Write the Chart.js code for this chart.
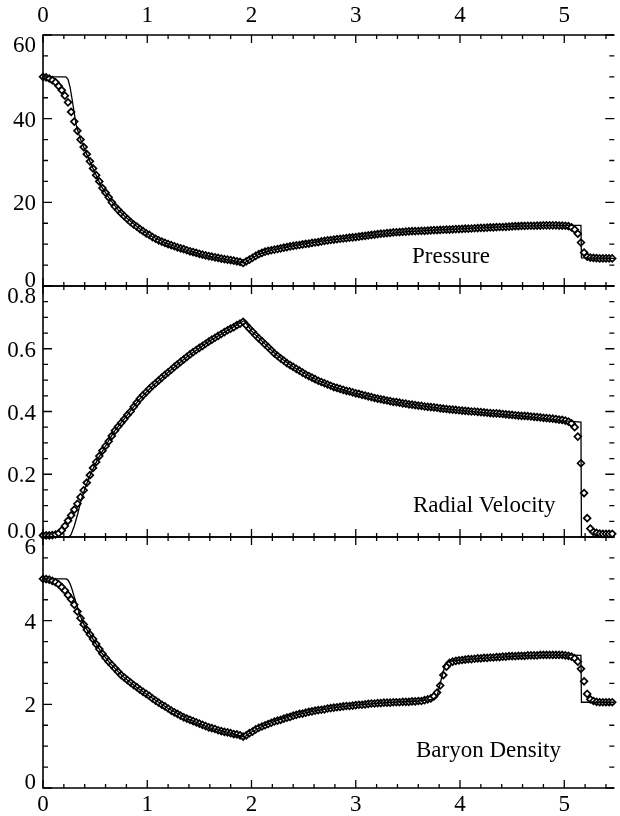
<!DOCTYPE html>
<html>
<head>
<meta charset="utf-8">
<title>Pressure, radial velocity, baryon density</title>
<script src="https://cdn.jsdelivr.net/npm/chart.js@4.4.1/dist/chart.umd.min.js"></script>
<style>
  body { margin: 0; background: #fff; }
  #wrap { position: relative; width: 620px; height: 816px; }
  #wrap canvas { position: absolute; left: 0; top: 0; }
</style>
</head>
<body>
<div id="wrap">
  <canvas id="pressure" width="620" height="816"></canvas>
  <canvas id="velocity" width="620" height="816"></canvas>
  <canvas id="density" width="620" height="816"></canvas>
</div>
<script>
// grille de la simulation (losanges), un point tous les 0.03
const xSim = [
  0, 0.03, 0.06, 0.09, 0.12, 0.15, 0.18, 0.21, 0.24, 0.27,
  0.3, 0.33, 0.36, 0.39, 0.42, 0.45, 0.48, 0.51, 0.54, 0.57,
  0.6, 0.63, 0.66, 0.69, 0.72, 0.75, 0.78, 0.81, 0.84, 0.87,
  0.9, 0.93, 0.96, 0.99, 1.02, 1.05, 1.08, 1.11, 1.14, 1.17,
  1.2, 1.23, 1.26, 1.29, 1.32, 1.35, 1.38, 1.41, 1.44, 1.47,
  1.5, 1.53, 1.56, 1.59, 1.62, 1.65, 1.68, 1.71, 1.74, 1.77,
  1.8, 1.83, 1.86, 1.89, 1.92, 1.95, 1.98, 2.01, 2.04, 2.07,
  2.1, 2.13, 2.16, 2.19, 2.22, 2.25, 2.28, 2.31, 2.34, 2.37,
  2.4, 2.43, 2.46, 2.49, 2.52, 2.55, 2.58, 2.61, 2.64, 2.67,
  2.7, 2.73, 2.76, 2.79, 2.82, 2.85, 2.88, 2.91, 2.94, 2.97,
  3, 3.03, 3.06, 3.09, 3.12, 3.15, 3.18, 3.21, 3.24, 3.27,
  3.3, 3.33, 3.36, 3.39, 3.42, 3.45, 3.48, 3.51, 3.54, 3.57,
  3.6, 3.63, 3.66, 3.69, 3.72, 3.75, 3.78, 3.81, 3.84, 3.87,
  3.9, 3.93, 3.96, 3.99, 4.02, 4.05, 4.08, 4.11, 4.14, 4.17,
  4.2, 4.23, 4.26, 4.29, 4.32, 4.35, 4.38, 4.41, 4.44, 4.47,
  4.5, 4.53, 4.56, 4.59, 4.62, 4.65, 4.68, 4.71, 4.74, 4.77,
  4.8, 4.83, 4.86, 4.89, 4.92, 4.95, 4.98, 5.01, 5.04, 5.07,
  5.1, 5.13, 5.16, 5.19, 5.22, 5.25, 5.28, 5.31, 5.34, 5.37,
  5.4, 5.43, 5.46
];

const pressureSim = [
  50.0, 49.85, 49.6, 49.2, 48.7, 47.8, 46.8, 45.5, 43.9, 41.6,
  39.3, 37.1, 35.0, 33.2, 31.5, 29.8, 28.1, 26.5, 25.0, 23.4,
  22.3, 21.2, 20.0, 19.0, 18.2, 17.4, 16.7, 16.0, 15.3, 14.7,
  14.2, 13.6, 13.1, 12.6, 12.2, 11.7, 11.3, 10.9, 10.6, 10.3,
  10.0, 9.75, 9.5, 9.25, 9.0, 8.8, 8.55, 8.3, 8.1, 7.9,
  7.7, 7.5, 7.3, 7.15, 7.0, 6.85, 6.7, 6.55, 6.4, 6.3,
  6.2, 6.05, 5.9, 5.75, 5.5, 5.9, 6.3, 6.75, 7.2, 7.6,
  7.9, 8.2, 8.4, 8.55, 8.7, 8.85, 9.0, 9.15, 9.3, 9.45,
  9.6, 9.7, 9.8, 9.95, 10.05, 10.15, 10.3, 10.4, 10.5, 10.65,
  10.8, 10.9, 11.0, 11.1, 11.2, 11.3, 11.35, 11.45, 11.55, 11.6,
  11.7, 11.8, 11.9, 12.0, 12.1, 12.2, 12.3, 12.4, 12.5, 12.55,
  12.65, 12.7, 12.8, 12.85, 12.9, 12.95, 13.0, 13.05, 13.1, 13.1,
  13.15, 13.2, 13.2, 13.25, 13.3, 13.35, 13.35, 13.4, 13.45, 13.5,
  13.5, 13.55, 13.6, 13.6, 13.65, 13.7, 13.7, 13.75, 13.8, 13.85,
  13.9, 13.9, 13.95, 14.0, 14.0, 14.05, 14.1, 14.1, 14.15, 14.2,
  14.25, 14.3, 14.3, 14.35, 14.35, 14.4, 14.4, 14.4, 14.45, 14.45,
  14.5, 14.5, 14.5, 14.5, 14.5, 14.45, 14.45, 14.4, 14.3, 14.0,
  13.5, 12.5, 10.4, 8.0, 7.0, 6.8, 6.7, 6.65, 6.6, 6.6,
  6.6, 6.6, 6.6
];

const velocitySim = [
  0.005, 0.005, 0.005, 0.006, 0.008, 0.012, 0.021, 0.035, 0.052, 0.069,
  0.087, 0.106, 0.127, 0.149, 0.173, 0.197, 0.220, 0.239, 0.258, 0.275,
  0.290, 0.305, 0.322, 0.339, 0.352, 0.364, 0.376, 0.389, 0.400, 0.415,
  0.428, 0.441, 0.452, 0.462, 0.472, 0.482, 0.490, 0.499, 0.508, 0.517,
  0.525, 0.533, 0.542, 0.550, 0.558, 0.566, 0.574, 0.582, 0.589, 0.596,
  0.603, 0.609, 0.616, 0.623, 0.629, 0.635, 0.641, 0.647, 0.653, 0.659,
  0.664, 0.669, 0.675, 0.680, 0.686, 0.675, 0.664, 0.654, 0.643, 0.633,
  0.624, 0.614, 0.605, 0.595, 0.585, 0.577, 0.569, 0.562, 0.554, 0.548,
  0.542, 0.536, 0.530, 0.524, 0.518, 0.513, 0.508, 0.503, 0.498, 0.494,
  0.490, 0.486, 0.482, 0.478, 0.475, 0.472, 0.469, 0.466, 0.464, 0.461,
  0.458, 0.456, 0.453, 0.451, 0.448, 0.446, 0.443, 0.441, 0.439, 0.437,
  0.435, 0.433, 0.431, 0.430, 0.428, 0.426, 0.425, 0.423, 0.422, 0.420,
  0.419, 0.418, 0.416, 0.415, 0.414, 0.413, 0.412, 0.410, 0.409, 0.408,
  0.407, 0.406, 0.405, 0.404, 0.403, 0.402, 0.401, 0.400, 0.400, 0.399,
  0.398, 0.397, 0.396, 0.395, 0.394, 0.394, 0.393, 0.392, 0.391, 0.390,
  0.389, 0.388, 0.387, 0.386, 0.386, 0.385, 0.384, 0.383, 0.382, 0.381,
  0.380, 0.379, 0.378, 0.377, 0.376, 0.374, 0.373, 0.371, 0.368, 0.362,
  0.350, 0.320, 0.235, 0.140, 0.060, 0.027, 0.016, 0.013, 0.011, 0.010,
  0.010, 0.010, 0.010
];

const densitySim = [
  5.00, 4.995, 4.98, 4.95, 4.92, 4.87, 4.80, 4.72, 4.61, 4.51,
  4.38, 4.22, 4.06, 3.91, 3.78, 3.67, 3.56, 3.44, 3.32, 3.21,
  3.11, 3.02, 2.94, 2.86, 2.78, 2.70, 2.64, 2.58, 2.52, 2.46,
  2.41, 2.35, 2.30, 2.25, 2.20, 2.14, 2.09, 2.04, 1.99, 1.95,
  1.90, 1.85, 1.81, 1.77, 1.73, 1.69, 1.66, 1.63, 1.60, 1.57,
  1.54, 1.51, 1.48, 1.45, 1.43, 1.41, 1.38, 1.36, 1.34, 1.33,
  1.31, 1.29, 1.28, 1.26, 1.23, 1.26, 1.31, 1.35, 1.40, 1.44,
  1.47, 1.50, 1.53, 1.56, 1.59, 1.61, 1.63, 1.66, 1.68, 1.70,
  1.73, 1.75, 1.77, 1.78, 1.80, 1.82, 1.83, 1.85, 1.86, 1.87,
  1.88, 1.90, 1.91, 1.92, 1.93, 1.94, 1.95, 1.96, 1.96, 1.97,
  1.98, 1.99, 1.99, 2.00, 2.01, 2.02, 2.02, 2.03, 2.03, 2.04,
  2.04, 2.04, 2.05, 2.05, 2.05, 2.06, 2.06, 2.06, 2.07, 2.07,
  2.08, 2.08, 2.10, 2.12, 2.14, 2.19, 2.28, 2.45, 2.70, 2.90,
  2.99, 3.02, 3.04, 3.05, 3.06, 3.07, 3.08, 3.08, 3.09, 3.10,
  3.10, 3.11, 3.11, 3.12, 3.12, 3.13, 3.13, 3.14, 3.14, 3.15,
  3.15, 3.15, 3.16, 3.16, 3.16, 3.17, 3.17, 3.17, 3.17, 3.18,
  3.18, 3.18, 3.18, 3.18, 3.18, 3.18, 3.18, 3.17, 3.16, 3.14,
  3.10, 3.02, 2.85, 2.55, 2.25, 2.12, 2.08, 2.06, 2.05, 2.05,
  2.05, 2.05, 2.05
];

// solution exacte (trait plein)
const pressureExactX = [0, 0.22, 0.24, 0.26, 0.28, 0.30, 0.32, 0.36, 0.40, 0.48, 0.56, 0.64, 0.72, 0.80, 0.92, 1.04, 1.20, 1.40, 1.60, 1.80, 1.93, 2.00, 2.08, 2.20, 2.40, 2.70, 3.00, 3.50, 4.00, 4.50, 4.90, 5.16, 5.165, 5.48];
const pressureExact = [50, 50, 49.4, 47.5, 44.5, 41.3, 38.3, 35.0, 32.6, 28.1, 23.8, 20.8, 18.2, 16.3, 13.8, 11.9, 10.0, 8.4, 7.1, 6.2, 5.5, 6.6, 7.7, 8.6, 9.6, 10.8, 11.7, 13.0, 13.65, 14.25, 14.5, 14.5, 6.7, 6.6];

const velocityExactX = [0, 0.25, 0.27, 0.30, 0.33, 0.36, 0.40, 0.44, 0.52, 0.60, 0.68, 0.80, 0.92, 1.04, 1.20, 1.40, 1.60, 1.80, 1.93, 2.00, 2.12, 2.24, 2.40, 2.60, 2.80, 3.00, 3.40, 3.80, 4.20, 4.60, 5.00, 5.16, 5.165, 5.48];
const velocityExact = [0, 0, 0.008, 0.035, 0.07, 0.11, 0.152, 0.188, 0.245, 0.29, 0.335, 0.385, 0.437, 0.478, 0.525, 0.579, 0.625, 0.664, 0.69, 0.657, 0.618, 0.58, 0.542, 0.505, 0.477, 0.458, 0.430, 0.411, 0.397, 0.385, 0.370, 0.366, 0, 0];

const densityExactX = [0, 0.22, 0.24, 0.26, 0.28, 0.30, 0.33, 0.36, 0.40, 0.48, 0.56, 0.64, 0.76, 0.88, 1.00, 1.20, 1.40, 1.60, 1.80, 1.93, 2.00, 2.12, 2.24, 2.40, 2.60, 2.80, 3.00, 3.30, 3.60, 3.74, 3.78, 3.82, 3.86, 3.90, 4.20, 4.60, 5.00, 5.16, 5.165, 5.48];
const densityExact = [5, 5, 4.97, 4.88, 4.74, 4.57, 4.32, 4.10, 3.87, 3.56, 3.24, 2.99, 2.68, 2.44, 2.23, 1.90, 1.64, 1.44, 1.31, 1.22, 1.34, 1.49, 1.61, 1.73, 1.84, 1.92, 1.98, 2.04, 2.08, 2.12, 2.20, 2.60, 2.97, 3.03, 3.10, 3.16, 3.18, 3.17, 2.05, 2.05];

// graduations
const xTicks = [0, 1, 2, 3, 4, 5];
const xMinorStep = 0.2;
const pressureTicks = [0, 20, 40, 60];
const pressureTickLabels = ['0', '20', '40', '60'];
const velocityTicks = [0, 0.2, 0.4, 0.6, 0.8];
const velocityTickLabels = ['0.0', '0.2', '0.4', '0.6', '0.8'];
const densityTicks = [0, 2, 4, 6];
const densityTickLabels = ['0', '2', '4', '6'];

const FONT = '23px "Liberation Serif", "Times New Roman", serif';

// cadre, graduations vers l'intérieur, étiquettes et titre de chaque panneau
const cadre = {
    id: 'cadre',
    afterDraw(chart, args, o) {
        const ctx = chart.ctx;
        const a = chart.chartArea;
        const xs = chart.scales.x;
        const ys = chart.scales.y;
        ctx.save();
        ctx.strokeStyle = '#000';
        ctx.fillStyle = '#000';
        ctx.lineWidth = 1.6;
        ctx.beginPath();
        ctx.moveTo(a.right, a.top);
        ctx.lineTo(a.left, a.top);
        ctx.lineTo(a.left, a.bottom);
        ctx.lineTo(a.right, a.bottom);
        ctx.stroke();

        ctx.lineWidth = 1.3;
        ctx.beginPath();
        for (let i = 0; i * xMinorStep <= xs.max; i++) {
            const px = xs.getPixelForValue(i * xMinorStep);
            const len = i % 5 === 0 ? 8 : 4;
            ctx.moveTo(px, a.top);
            ctx.lineTo(px, a.top + len);
            ctx.moveTo(px, a.bottom);
            ctx.lineTo(px, a.bottom - len);
        }
        const n = Math.round((ys.max - ys.min) / o.minorStep);
        for (let i = 0; i <= n; i++) {
            const py = ys.getPixelForValue(ys.min + i * o.minorStep);
            const len = i % 4 === 0 ? 9 : 5;
            ctx.moveTo(a.left, py);
            ctx.lineTo(a.left + len, py);
            ctx.moveTo(a.right, py);
            ctx.lineTo(a.right - len, py);
        }
        ctx.stroke();

        ctx.font = FONT;
        ctx.textAlign = 'right';
        ctx.textBaseline = 'alphabetic';
        o.ticks.forEach((t, i) => {
            const py = ys.getPixelForValue(t);
            let base = py + 8;
            if (t === ys.max) base = py + 17;
            if (t === ys.min) base = py + 1;
            ctx.fillText(o.labels[i], a.left - 7, base);
        });

        ctx.textAlign = 'center';
        if (o.topLabels) {
            xTicks.forEach(t => ctx.fillText(String(t), xs.getPixelForValue(t), a.top - 13));
        }
        if (o.bottomLabels) {
            xTicks.forEach(t => ctx.fillText(String(t), xs.getPixelForValue(t), a.bottom + 23));
        }

        ctx.textAlign = 'left';
        ctx.fillText(o.title, o.titleX, o.titleY);
        ctx.restore();
    }
};

function creerPanneau(id, simY, exX, exY, yMin, yMax, padding, opts) {
    const sim = xSim.map((x, i) => ({ x: x, y: simY[i] }));
    const exact = exX.map((x, i) => ({ x: x, y: exY[i] }));
    return new Chart(document.getElementById(id), {
        type: 'scatter',
        data: {
            datasets: [
                {
                    // solution exacte, dessinée au-dessus
                    data: exact,
                    showLine: true,
                    borderColor: '#000',
                    borderWidth: 1.3,
                    pointRadius: 0,
                    tension: 0,
                    clip: false
                },
                {
                    // simulation
                    data: sim,
                    showLine: false,
                    pointStyle: 'rectRot',
                    pointRadius: 3.4,
                    pointBorderWidth: 1.7,
                    pointBorderColor: '#000',
                    pointBackgroundColor: '#fff',
                    clip: false
                }
            ]
        },
        options: {
            responsive: false,
            animation: false,
            devicePixelRatio: 1,
            events: [],
            layout: { padding: padding },
            scales: {
                x: { type: 'linear', min: 0, max: 5.48, display: false },
                y: { type: 'linear', min: yMin, max: yMax, display: false }
            },
            plugins: {
                legend: { display: false },
                tooltip: { enabled: false },
                cadre: opts
            }
        },
        plugins: [cadre]
    });
}

creerPanneau('pressure', pressureSim, pressureExactX, pressureExact, 0, 60,
    { left: 43, right: 0, top: 35, bottom: 530 },
    { minorStep: 5, ticks: pressureTicks, labels: pressureTickLabels, topLabels: true, bottomLabels: false,
      title: 'Pressure', titleX: 412, titleY: 263 });

creerPanneau('velocity', velocitySim, velocityExactX, velocityExact, 0, 0.8,
    { left: 43, right: 0, top: 286, bottom: 279 },
    { minorStep: 0.05, ticks: velocityTicks, labels: velocityTickLabels, topLabels: false, bottomLabels: false,
      title: 'Radial Velocity', titleX: 413, titleY: 512 });

creerPanneau('density', densitySim, densityExactX, densityExact, 0, 6,
    { left: 43, right: 0, top: 537, bottom: 28 },
    { minorStep: 0.5, ticks: densityTicks, labels: densityTickLabels, topLabels: false, bottomLabels: true,
      title: 'Baryon Density', titleX: 416, titleY: 757 });
</script>
</body>
</html>
